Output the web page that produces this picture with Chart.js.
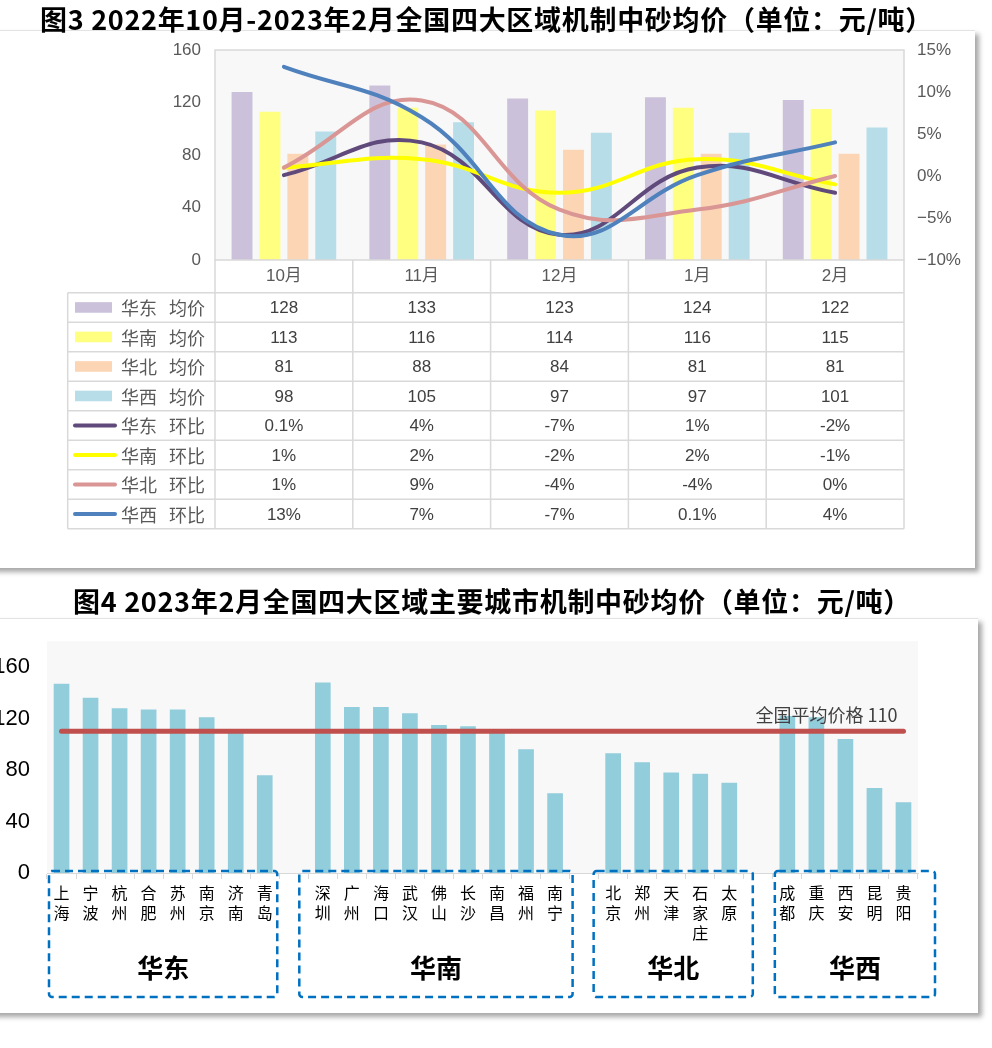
<!DOCTYPE html>
<html>
<head>
<meta charset="utf-8">
<script src="https://cdn.jsdelivr.net/npm/chart.js@4.4.1/dist/chart.umd.min.js"></script>
<style>
  body { margin: 0; width: 992px; height: 1048px; background: #fff; position: relative; overflow: hidden; font-family: "Noto Sans CJK SC", sans-serif; }
  .title { position: absolute; left: 0; z-index: 2; text-align: center; font-size: 27px; line-height: 36px; letter-spacing: 0.7px; color: #000; font-weight: bold; white-space: nowrap; }
  .panel { position: absolute; z-index: 1; background: #fff; border-top: 1px solid #e3e3e3; box-shadow: 4px 4px 5px rgba(0,0,0,0.35); }
  canvas { position: absolute; }
</style>
</head>
<body>
<div class="title" style="top:1px;width:973px;">图3 2022年10月-2023年2月全国四大区域机制中砂均价（单位：元/吨）</div>
<div class="panel" style="left:-10px;top:30px;width:985px;height:537px;">
  <canvas id="c1" width="975" height="537" style="left:10px;top:0;"></canvas>
</div>
<div class="title" style="top:583px;width:984px;">图4 2023年2月全国四大区域主要城市机制中砂均价（单位：元/吨）</div>
<div class="panel" style="left:-10px;top:618px;width:988px;height:394px;">
  <canvas id="c2" width="978" height="394" style="left:10px;top:0;"></canvas>
</div>
<script>
/* ================= 图3 DATA ================= */
const months = ["10月", "11月", "12月", "1月", "2月"];
const priceNames = ["华东   均价", "华南   均价", "华北   均价", "华西   均价"];
const eastPrice = [128, 133, 123, 124, 122];
const southPrice = [113, 116, 114, 116, 115];
const northPrice = [81, 88, 84, 81, 81];
const westPrice = [98, 105, 97, 97, 101];
const momNames = ["华东   环比", "华南   环比", "华北   环比", "华西   环比"];
const eastMoM = [0.1, 4, -7, 1, -2];
const southMoM = [1, 2, -2, 2, -1];
const northMoM = [1, 9, -4, -4, 0];
const westMoM = [13, 7, -7, 0.1, 4];

/* ================= 图4 DATA ================= */
const regionNames = ["华东", "华南", "华北", "华西"];
const eastCities = ["上海", "宁波", "杭州", "合肥", "苏州", "南京", "济南", "青岛"];
const eastCityPrice = [147, 136, 128, 127, 127, 121, 109, 76];
const southCities = ["深圳", "广州", "海口", "武汉", "佛山", "长沙", "南昌", "福州", "南宁"];
const southCityPrice = [148, 129, 129, 124, 115, 114, 109, 96, 62];
const northCities = ["北京", "郑州", "天津", "石家庄", "太原"];
const northCityPrice = [93, 86, 78, 77, 70];
const westCities = ["成都", "重庆", "西安", "昆明", "贵阳"];
const westCityPrice = [122, 121, 104, 66, 55];
const nationalAvg = 110;

const FONT = '"Liberation Sans", "Noto Sans CJK SC", sans-serif';
const CJK = '"Noto Sans CJK SC", sans-serif';

Chart.defaults.font.family = FONT;
Chart.defaults.animation = false;

/* ================= CHART 1 ================= */
const barColors = ["#ccc1da", "#ffff80", "#fcd5b5", "#b7dee8"];
const lineColors = ["#604a7b", "#ffff00", "#d99694", "#4f81bd"];
const priceSeries = [eastPrice, southPrice, northPrice, westPrice];
const momSeries = [eastMoM, southMoM, northMoM, westMoM];
const lineOrder = [3, 2, 1, 0];

const datasets1 = [];
priceSeries.forEach((d, i) => {
  datasets1.push({
    type: "bar", label: priceNames[i], data: d, yAxisID: "y",
    backgroundColor: barColors[i], order: 10,
    categoryPercentage: 0.81, barPercentage: 0.75
  });
});
momSeries.forEach((d, i) => {
  datasets1.push({
    type: "line", label: momNames[i], data: d, yAxisID: "y1",
    borderColor: lineColors[i], borderWidth: 4, pointRadius: 0,
    tension: 0.42, fill: false, order: lineOrder[i], borderCapStyle: "round"
  });
});

const plotBg = {
  id: "plotBg",
  beforeDraw(chart) {
    const { ctx, chartArea: a } = chart;
    ctx.save();
    ctx.fillStyle = "#f8f8f8";
    ctx.fillRect(a.left, a.top, a.right - a.left, a.bottom - a.top);
    ctx.restore();
  }
};

const dataTable = {
  id: "dataTable",
  afterDraw(chart) {
    const { ctx, chartArea: a } = chart;
    const xs = chart.scales.x;
    const headerH = 32.7, rowH = 29.5, tableLeft = 67.7;
    const step = (a.right - a.left) / months.length;
    const firstTop = a.bottom + headerH;
    const bottom = firstTop + rowH * 8;
    ctx.save();
    ctx.strokeStyle = "#d9d9d9";
    ctx.lineWidth = 1.5;
    // plot border
    ctx.strokeRect(a.left, a.top, a.right - a.left, a.bottom - a.top);
    ctx.beginPath();
    ctx.moveTo(a.left, a.bottom); ctx.lineTo(a.left, bottom);
    for (let i = 0; i < months.length; i++) {
      const xb = xs.getPixelForValue(i) + step / 2;
      ctx.moveTo(xb, a.bottom); ctx.lineTo(xb, bottom);
    }
    ctx.moveTo(tableLeft, firstTop); ctx.lineTo(tableLeft, bottom);
    for (let r = 0; r <= 8; r++) {
      const y = firstTop + r * rowH;
      ctx.moveTo(tableLeft, y); ctx.lineTo(a.right, y);
    }
    ctx.stroke();

    const rows = [];
    priceSeries.forEach((d, i) => rows.push({ name: priceNames[i], data: d, color: barColors[i], kind: "bar", fmt: v => String(v) }));
    momSeries.forEach((d, i) => rows.push({ name: momNames[i], data: d, color: lineColors[i], kind: "line", fmt: v => v + "%" }));

    ctx.textBaseline = "middle";
    rows.forEach((row, r) => {
      const yc = firstTop + r * rowH + rowH / 2;
      if (row.kind === "bar") {
        ctx.fillStyle = row.color;
        ctx.fillRect(75, yc - 5.3, 37, 10.6);
      } else {
        ctx.strokeStyle = row.color;
        ctx.lineWidth = 4;
        ctx.lineCap = "round";
        ctx.beginPath(); ctx.moveTo(75, yc); ctx.lineTo(115, yc); ctx.stroke();
      }
      ctx.fillStyle = "#595959";
      ctx.font = "18px " + CJK;
      ctx.textAlign = "left";
      ctx.fillText(row.name, 121, yc + 1);
      ctx.font = "17px " + FONT;
      ctx.textAlign = "center";
      ctx.fillStyle = "#404040";
      row.data.forEach((v, i) => ctx.fillText(row.fmt(v), xs.getPixelForValue(i), yc + 1));
    });
    ctx.restore();
  }
};

new Chart(document.getElementById("c1"), {
  data: { labels: months, datasets: datasets1 },
  options: {
    responsive: false,
    layout: { padding: { top: 19, left: 0, right: 0, bottom: 0 }, autoPadding: false },
    plugins: { legend: { display: false }, tooltip: { enabled: false } },
    scales: {
      x: {
        grid: { display: false }, border: { display: false },
        ticks: { color: "#595959", font: { size: 17 }, padding: -2 },
        afterFit: s => { s.height = 308; }
      },
      y: {
        position: "left", min: 0, max: 160,
        ticks: { stepSize: 40, color: "#595959", font: { size: 17 }, padding: 6 },
        grid: { display: false }, border: { display: false },
        afterFit: s => { s.width = 215; }
      },
      y1: {
        position: "right", min: -10, max: 15,
        ticks: { stepSize: 5, color: "#595959", font: { size: 17 }, padding: 5,
          callback: v => String(v).replace("-", "−") + "%" },
        grid: { display: false }, border: { display: false },
        afterFit: s => { s.width = 71; }
      }
    }
  },
  plugins: [plotBg, dataTable]
});

/* ================= CHART 2 ================= */
const cityGroups = [eastCities, southCities, northCities, westCities];
const cityPriceGroups = [eastCityPrice, southCityPrice, northCityPrice, westCityPrice];
const cityLabels = [];
const cityValues = [];
const groupRanges = [];
cityGroups.forEach((cities, g) => {
  if (g > 0) { cityLabels.push(""); cityValues.push(null); }
  const start = cityLabels.length;
  cities.forEach((c, k) => { cityLabels.push(c.split("")); cityValues.push(cityPriceGroups[g][k]); });
  groupRanges.push([start, cityLabels.length - 1]);
});
const avgLine = cityLabels.map(() => nationalAvg);

const groupBoxes = {
  id: "groupBoxes",
  afterDraw(chart) {
    const { ctx, chartArea: a } = chart;
    const xs = chart.scales.x, ys = chart.scales.y;
    const w = (a.right - a.left) / cityLabels.length;
    const pads = [[2, -2], [-9, 3], [-5, 9], [2, 17]];
    ctx.save();
    // average label
    ctx.font = "18px " + CJK;
    ctx.fillStyle = "#404040";
    ctx.textAlign = "right";
    ctx.textBaseline = "middle";
    ctx.fillText("全国平均价格 " + nationalAvg, xs.getPixelForValue(cityLabels.length - 1) - 6, ys.getPixelForValue(nationalAvg) - 16);

    groupRanges.forEach((rg, g) => {
      const l = xs.getPixelForValue(rg[0]) - w / 2 + pads[g][0];
      const r = xs.getPixelForValue(rg[1]) + w / 2 + pads[g][1];
      const t = a.bottom - 2, b = a.bottom + 124;
      ctx.strokeStyle = "#0070c0";
      ctx.lineWidth = 2.5;
      ctx.setLineDash([8, 5]);
      ctx.beginPath();
      ctx.roundRect(l, t, r - l, b - t, 3);
      ctx.stroke();
      ctx.setLineDash([]);
      ctx.font = "bold 26px " + CJK;
      ctx.fillStyle = "#000";
      ctx.textAlign = "center";
      ctx.fillText(regionNames[g], (l + r) / 2, a.bottom + 95);
    });
    ctx.restore();
  }
};

new Chart(document.getElementById("c2"), {
  data: {
    labels: cityLabels,
    datasets: [
      { type: "line", label: "全国平均价格", data: avgLine, borderColor: "#c0504d", borderWidth: 5,
        pointRadius: 0, borderCapStyle: "round", order: 0 },
      { type: "bar", label: "均价", data: cityValues, backgroundColor: "#92cddc",
        categoryPercentage: 1, barPercentage: 0.54, order: 1 }
    ]
  },
  options: {
    responsive: false,
    layout: { padding: { top: 18, left: 0, right: 60, bottom: 0 }, autoPadding: false },
    plugins: { legend: { display: false }, tooltip: { enabled: false } },
    scales: {
      x: {
        grid: { drawOnChartArea: false, tickLength: 6, color: "#d9d9d9", offset: true },
        border: { color: "#d9d9d9" },
        ticks: { color: "#000", font: { size: 16, family: CJK, lineHeight: 1.25 }, padding: 4,
          maxRotation: 0, autoSkip: false },
        afterFit: s => { s.height = 140; }
      },
      y: {
        min: 0, max: 180,
        ticks: { stepSize: 40, color: "#000", font: { size: 22 }, padding: 9,
          callback: v => (v > 160 ? "" : v) },
        grid: { display: false }, border: { display: false },
        afterFit: s => { s.width = 47; }
      }
    }
  },
  plugins: [plotBg, groupBoxes]
});
</script>
</body>
</html>
